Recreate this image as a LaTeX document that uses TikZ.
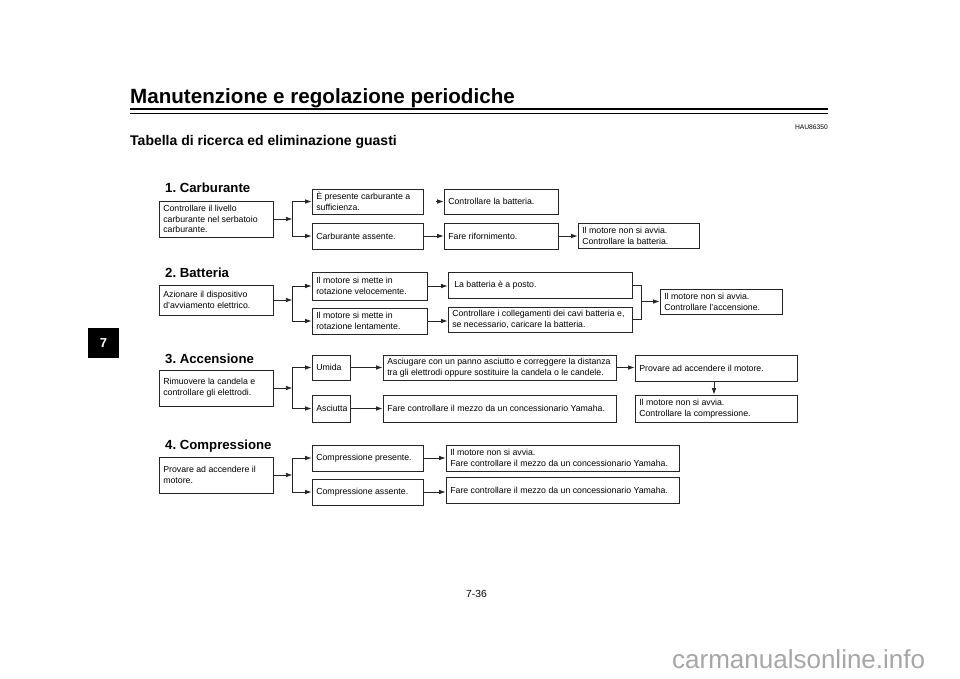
\documentclass[tikz,border=0pt]{standalone}
\usepackage{fontspec}
\setmainfont{Liberation Sans}
\usetikzlibrary{arrows.meta,calc}
\frenchspacing
\tikzset{
  bx/.style={draw=black!85, line width=0.8pt, inner sep=0pt, anchor=center},
  txt/.style={inner sep=0pt, align=left, anchor=west, font=\fontsize{8.75}{10.8}\selectfont},
  ln/.style={draw=black!85, line width=0.8pt},
  arr/.style={draw=black!85, line width=0.8pt, -{Latex[length=6.5pt,width=4.6pt]}},
  sect/.style={anchor=base west, inner sep=0pt, font=\fontsize{13.2}{15}\selectfont\bfseries},
}
\newcommand\fbx[6]{%
  \pgfmathsetmacro\bxw{(#4)-(#2)}%
  \pgfmathsetmacro\bxh{(#5)-(#3)}%
  \pgfmathsetmacro\bxx{((#2)+(#4))/2}%
  \pgfmathsetmacro\bxy{((#3)+(#5))/2}%
  \node[bx, minimum width=\bxw pt, minimum height=\bxh pt] (#1) at (\bxx,\bxy) {};%
  \node[txt] (#1t) at ([xshift=4.5pt]#1.west) {#6};%
}
\begin{document}
\begin{tikzpicture}[x=1pt,y=-1pt]
\useasboundingbox (0,0) rectangle (960,679);
\fill[white] (0,0) rectangle (960,679);

% header
\node[anchor=base west, inner sep=0pt, font=\fontsize{20.6}{24}\selectfont\bfseries] (hdr) at (130,104) {Manutenzione e regolazione periodiche};
\draw[line width=2pt] (130,109.5) -- (828,109.5);
\draw[line width=0.7pt] (130,113) -- (828,113);
\node[anchor=base east, inner sep=0pt, font=\fontsize{6.7}{8}\selectfont] (hau) at (828,130) {HAU86350};
\node[anchor=base west, inner sep=0pt, font=\fontsize{14}{16}\selectfont\bfseries] (ttl) at (130,146) {Tabella di ricerca ed eliminazione guasti};

% chapter tab
\fill[black] (88,328) rectangle (119,358);
\node[text=white, font=\fontsize{13}{15}\selectfont\bfseries] (tab) at (103.5,343) {7};

% section 1
\node[sect] (s1) at (165,193) {1. Carburante};
\fbx{a1}{159}{201}{273}{237}{Controllare il livello\\carburante nel serbatoio\\carburante.}
\fbx{a2}{312}{189}{423}{214}{È presente carburante a\\sufficienza.}
\fbx{a3}{312}{223}{423}{249}{Carburante assente.}
\fbx{a4}{444}{189}{558}{214}{Controllare la batteria.}
\fbx{a5}{444}{223}{558}{249}{Fare rifornimento.}
\fbx{a6}{578}{223}{699}{248.5}{Il motore non si avvia.\\Controllare la batteria.}
\coordinate (j1) at ([xshift=19pt]a1.east);
\draw[arr] (a1.east) -- (j1);
\draw[arr] (j1) |- (a2.west);
\draw[arr] (j1) |- (a3.west);
\coordinate (a4s) at (436,201.5);
\draw[arr] (a4s) -- (a4s -| a4.west);
\draw[arr] (a3.east) -- (a3.east -| a5.west);
\draw[arr] (a5.east) -- (a5.east -| a6.west);

% section 2
\node[sect] (s2) at (165,277) {2. Batteria};
\fbx{b1}{159}{285}{273}{315}{Azionare il dispositivo\\d'avviamento elettrico.}
\fbx{b2}{312}{272}{427}{300}{Il motore si mette in\\rotazione velocemente.}
\fbx{b3}{312}{308}{427}{334}{Il motore si mette in\\rotazione lentamente.}
\fbx{b4}{448}{272}{632}{298}{\hspace*{2pt}La batteria è a posto.}
\fbx{b5}{448}{307}{632}{332}{Controllare i collegamenti dei cavi batteria e,\\se necessario, caricare la batteria.}
\fbx{b6}{660}{289}{782}{314}{Il motore non si avvia.\\Controllare l'accensione.}
\coordinate (j2) at ([xshift=19pt]b1.east);
\draw[arr] (b1.east) -- (j2);
\draw[arr] (j2) |- (b2.west);
\draw[arr] (j2) |- (b3.west);
\draw[arr] (b2.east) -- (b2.east -| b4.west);
\draw[arr] (b3.east) -- (b3.east -| b5.west);
\coordinate (k2) at ([xshift=9pt]b4.east);
\draw[ln] (b4.east) -| (k2 |- b5.east) -- (b5.east);
\draw[arr] (k2 |- b6.west) -- (b6.west);

% section 3
\node[sect] (s3) at (165,363) {3. Accensione};
\fbx{e1}{159}{370}{273}{406}{Rimuovere la candela e\\controllare gli elettrodi.}
\fbx{e2}{312}{355}{350}{380}{Umida}
\fbx{e3}{312}{395}{350}{422}{Asciutta}
\fbx{e4}{383}{355}{616}{380}{Asciugare con un panno asciutto e correggere la distanza\\tra gli elettrodi oppure sostituire la candela o le candele.}
\fbx{e5}{383}{395}{616}{422}{Fare controllare il mezzo da un concessionario Yamaha.}
\fbx{e6}{635}{355}{797}{381}{Provare ad accendere il motore.}
\fbx{e7}{635}{395}{797}{422}{Il motore non si avvia.\\Controllare la compressione.}
\coordinate (j3) at ([xshift=19pt]e1.east);
\draw[arr] (e1.east) -- (j3);
\draw[arr] (j3) |- (e2.west);
\draw[arr] (j3) |- (e3.west);
\draw[arr] (e2.east) -- (e2.east -| e4.west);
\draw[arr] (e3.east) -- (e3.east -| e5.west);
\draw[arr] (e4.east) -- (e4.east -| e6.west);
\draw[arr] ([xshift=-2pt]e6.south) -- ([xshift=-2pt]e6.south |- e7.north);

% section 4
\node[sect] (s4) at (165,449) {4. Compressione};
\fbx{g1}{159}{457}{273}{493}{Provare ad accendere il\\motore.}
\fbx{g2}{312}{445}{423}{471}{Compressione presente.}
\fbx{g3}{312}{479}{423}{505}{Compressione assente.}
\fbx{g4}{446}{445}{679}{471}{Il motore non si avvia.\\Fare controllare il mezzo da un concessionario Yamaha.}
\fbx{g5}{446}{477.5}{679}{503}{Fare controllare il mezzo da un concessionario Yamaha.}
\coordinate (j4) at ([xshift=19pt]g1.east);
\draw[arr] (g1.east) -- (j4);
\draw[arr] (j4) |- (g2.west);
\draw[arr] (j4) |- (g3.west);
\draw[arr] (g2.east) -- (g2.east -| g4.west);
\draw[arr] (g3.east) -- (g3.east -| g5.west);

% footer
\node[anchor=base west, inner sep=0pt, font=\fontsize{10.3}{12}\selectfont] (pg) at (466,597) {7-36};
\node[anchor=base west, inner sep=0pt, text=black!35, font=\fontsize{26}{30}\selectfont] (wm) at (672,668) {carmanualsonline.info};
\end{tikzpicture}
\end{document}
